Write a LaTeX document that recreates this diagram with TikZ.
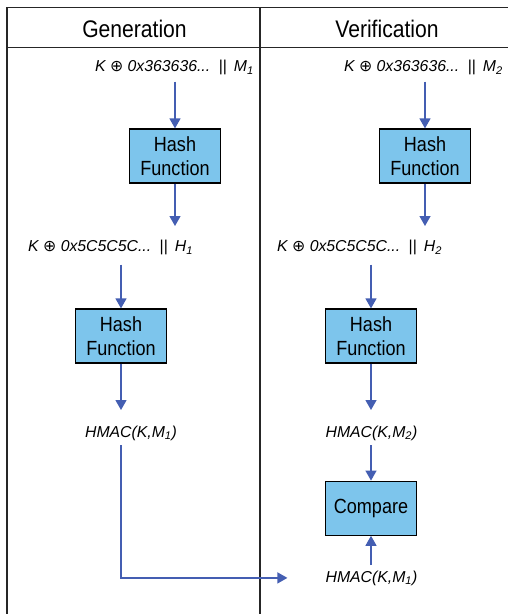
\documentclass[tikz,border=0pt]{standalone}
\usepackage{fontspec}
\setmainfont{Liberation Sans}[FakeStretch=0.88]
\newfontfamily\lblfont{Liberation Sans}
\newfontfamily\symfont{DejaVu Sans}
\usepackage{tikz}
\usetikzlibrary{positioning,arrows.meta}
\definecolor{boxcol}{RGB}{125,197,236}
\definecolor{arrcol}{RGB}{68,94,178}
\newcommand{\xorop}{{\symfont\upshape ⊕}}
\tikzset{
  hashbox/.style={rectangle, draw=black, line width=1.2pt, fill=boxcol,
    align=center, minimum width=91pt, minimum height=54pt, inner sep=0pt,
    font=\fontsize{20.5}{24.3}\selectfont},
  lbl/.style={inner sep=0pt, font=\fontsize{15.8}{18}\selectfont\lblfont\itshape},
  head/.style={inner sep=0pt, font=\fontsize{24}{28}\selectfont},
  arr/.style={-{Triangle[length=10pt,width=11pt]}, line width=1.3pt, draw=arrcol},
  rule/.style={line width=1.2pt, draw=black!85},
}
\begin{document}
\begin{tikzpicture}[x=1pt,y=-1pt]
  \useasboundingbox (0,0) rectangle (508,614);

  % table
  \draw[rule] (7,7.3) -- (508,7.3);
  \draw[rule] (7,47.7) -- (508,47.7);
  \draw[rule] (7,7.3) -- (7,614);
  \draw[rule] (260,7.3) -- (260,614);
  \node[head, anchor=base] (gen) at (134.5,37) {Generation};
  \node[head, anchor=base] (ver) at (387,37) {Verification};

  % generation
  \node[lbl, anchor=base east] (inA) at (254,71.7) {K \xorop{} 0x363636... \,{\upshape||}\, M\textsubscript{1}};
  \node[hashbox] (hashA) at (175,156) {Hash\\Function};
  \node[lbl, anchor=base west] (inB) at (28,251.7) {K \xorop{} 0x5C5C5C... \,{\upshape||}\, H\textsubscript{1}};
  \node[hashbox] (hashB) at (121,336) {Hash\\Function};
  \node[lbl, anchor=base] (outA) at (131,437) {HMAC(K,M\textsubscript{1})};

  % verification
  \node[lbl, anchor=base east] (inC) at (503,71.7) {K \xorop{} 0x363636... \,{\upshape||}\, M\textsubscript{2}};
  \node[hashbox] (hashC) at (425,156) {Hash\\Function};
  \node[lbl, anchor=base west] (inD) at (277,251.7) {K \xorop{} 0x5C5C5C... \,{\upshape||}\, H\textsubscript{2}};
  \node[hashbox] (hashD) at (371,336) {Hash\\Function};
  \node[lbl, anchor=base] (outB) at (371.5,437) {HMAC(K,M\textsubscript{2})};
  \node[hashbox, below=117pt of hashD] (cmp) {Compare};
  \node[lbl, anchor=base] (outC) at (371.5,582) {HMAC(K,M\textsubscript{1})};

  \draw[arr, shorten <=10pt] (hashA.north |- inA.base) -- (hashA.north);
  \draw[arr, shorten >=25.7pt] (hashA.south) -- (hashA.south |- inB.base);
  \draw[arr, shorten <=13pt] (hashB.north |- inB.base) -- (hashB.north);
  \draw[arr, shorten >=27pt] (hashB.south) -- (hashB.south |- outA.base);
  \draw[arr, shorten <=8pt, shorten >=38pt] (hashB.south |- outA.base) |- (outC.west);

  \draw[arr, shorten <=10pt] (hashC.north |- inC.base) -- (hashC.north);
  \draw[arr, shorten >=25.7pt] (hashC.south) -- (hashC.south |- inD.base);
  \draw[arr, shorten <=13pt] (hashD.north |- inD.base) -- (hashD.north);
  \draw[arr, shorten >=27pt] (hashD.south) -- (hashD.south |- outB.base);
  \draw[arr, shorten <=8pt] (cmp.north |- outB.base) -- (cmp.north);
  \draw[arr, shorten <=17pt] (cmp.south |- outC.base) -- (cmp.south);
\end{tikzpicture}
\end{document}
